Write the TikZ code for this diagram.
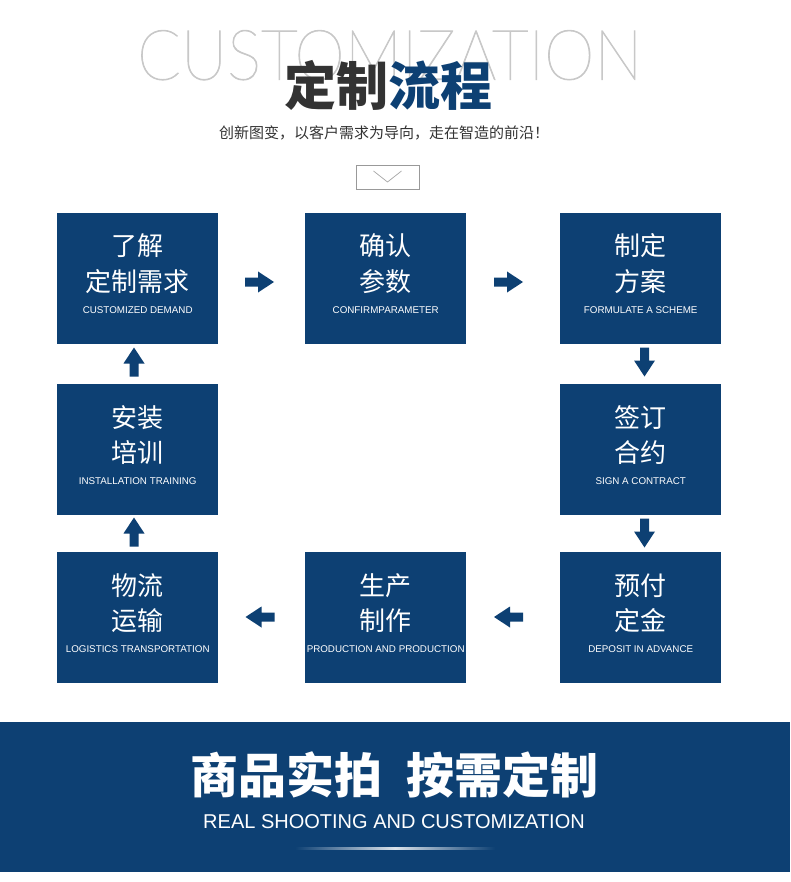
\documentclass[tikz,border=0pt]{standalone}
\usepackage{fontspec}
\usepackage{graphicx}
\usetikzlibrary{calc}
\setmainfont{Liberation Sans}
\newfontfamily\cjk{Noto Sans CJK SC}
\newfontfamily\cjkbold{Noto Sans CJK SC Black}
\IfFontExistsTF{Lato Hairline}{\newfontfamily\thinfont{Lato Hairline}[FakeBold=1.2]}{%
  \newfontfamily\thinfont{Liberation Sans}}
\definecolor{navy}{HTML}{0D4073}
\definecolor{titlegray}{HTML}{333333}
\definecolor{ghost}{HTML}{C8C8C8}
\tikzset{
  stepbox/.style={fill=navy, draw=none, minimum width=161pt, minimum height=131pt, anchor=north west, inner sep=0pt},
  cjkline/.style={text=white, font=\cjk\fontsize{26}{26}\selectfont, anchor=base, inner sep=0pt},
  enline/.style={text=white, font=\fontsize{9.8}{10}\selectfont, anchor=base, inner sep=0pt},
  barrow/.pic={\fill[navy] (-14.5,-4.5) -- (-1.5,-4.5) -- (-1.5,-10.5) -- (14.5,0) -- (-1.5,10.5) -- (-1.5,4.5) -- (-14.5,4.5) -- cycle;}
}
\newcommand{\stepnode}[6]{%
  \node[stepbox] (#1) at (#2,#3) {};
  \node[cjkline] (#1a) at ($(#1.north)+(0,43)$) {#4};
  \node[cjkline] (#1b) at ($(#1.north)+(0,78)$) {#5};
  \node[enline] (#1c) at ($(#1.north)+(0,100.6)$) {#6};
}
\begin{document}
\begin{tikzpicture}[x=1pt,y=-1pt]
\useasboundingbox (0,0) rectangle (790,882);
\fill[white] (0,0) rectangle (790,882);
% header
\node[anchor=north west, inner sep=0pt, text=ghost] (ghost) at (137,30) {\resizebox*{505pt}{50pt}{\thinfont CUSTOMIZATION}};
\node[anchor=base, inner sep=0pt, font=\cjkbold\fontsize{52}{52}\selectfont] (title) at (388.5,106) {\textcolor{titlegray}{定制}\textcolor{navy}{流程}};
\node[anchor=base, inner sep=0pt, text=titlegray, font=\cjk\fontsize{15}{15}\selectfont] (sub) at (384,138.7) {创新图变，以客户需求为导向，走在智造的前沿！};
\node[draw=black!40, line width=0.8pt, minimum width=63pt, minimum height=24pt, inner sep=0pt] (vbox) at (387.5,177) {};
\draw[black!35, line width=0.7pt] ($(vbox.center)+(-14,-6)$) -- ($(vbox.center)+(0,5)$) -- ($(vbox.center)+(14,-6)$);
% steps
\stepnode{s1}{57}{213}{了解}{定制需求}{CUSTOMIZED DEMAND}
\stepnode{s2}{305}{213}{确认}{参数}{CONFIRMPARAMETER}
\stepnode{s3}{560}{213}{制定}{方案}{FORMULATE A SCHEME}
\stepnode{s4}{560}{384}{签订}{合约}{SIGN A CONTRACT}
\stepnode{s5}{560}{552}{预付}{定金}{DEPOSIT IN ADVANCE}
\stepnode{s6}{305}{552}{生产}{制作}{PRODUCTION AND PRODUCTION}
\stepnode{s7}{57}{552}{物流}{运输}{LOGISTICS TRANSPORTATION}
\stepnode{s8}{57}{384}{安装}{培训}{INSTALLATION TRAINING}
% arrows
\pic at (259.5,282) {barrow};
\pic at (508.5,282) {barrow};
\pic[rotate=-90] at (644.5,362) {barrow};
\pic[rotate=-90] at (644.5,533) {barrow};
\pic[rotate=180] at (508.5,617) {barrow};
\pic[rotate=180] at (260,617) {barrow};
\pic[rotate=90] at (134,532) {barrow};
\pic[rotate=90] at (134,362) {barrow};
% banner
\fill[navy] (0,722) rectangle (790,872);
\node[anchor=base, inner sep=0pt, text=white, font=\cjkbold\fontsize{48}{48}\selectfont] (b1) at (286,793.5) {商品实拍};
\node[anchor=base, inner sep=0pt, text=white, font=\cjkbold\fontsize{48}{48}\selectfont] (b2) at (502,793.5) {按需定制};
\node[anchor=base, inner sep=0pt, text=white, font=\fontsize{20}{20}\selectfont] (b3) at (394,828) {REAL SHOOTING AND CUSTOMIZATION};
\shade[left color=navy, right color=navy, middle color=white!85!navy] (295,847) rectangle (495,849.5);
\end{tikzpicture}
\end{document}
